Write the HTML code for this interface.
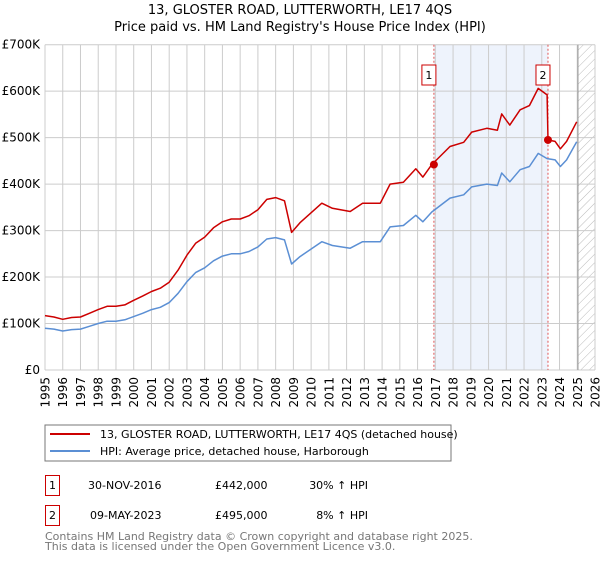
<!DOCTYPE html>
<html><head><meta charset="utf-8"><style>
body{margin:0;background:#fff;font-family:"DejaVu Sans","Liberation Sans",sans-serif;}
svg text{font-family:"DejaVu Sans","Liberation Sans",sans-serif;}
</style></head><body>
<svg id="c" width="600" height="560" viewBox="0 0 600 560" xmlns="http://www.w3.org/2000/svg">
<defs><pattern id="hatch" width="6" height="6" patternUnits="userSpaceOnUse" patternTransform="rotate(45)"><line x1="0" y1="0" x2="0" y2="6" stroke="#bbb" stroke-width="1"/></pattern></defs>
<text x="300" y="14" text-anchor="middle" font-size="13" fill="#000">13, GLOSTER ROAD, LUTTERWORTH, LE17 4QS</text>
<text x="300" y="31" text-anchor="middle" font-size="13" fill="#000">Price paid vs. HM Land Registry's House Price Index (HPI)</text>
<g id="plot"></g>
<g>
<rect x="45" y="425" width="406" height="36" fill="#fff" stroke="#777"/>
<line x1="50" y1="434" x2="90" y2="434" stroke="#cc0000" stroke-width="2"/>
<text x="100" y="438" font-size="11">13, GLOSTER ROAD, LUTTERWORTH, LE17 4QS (detached house)</text>
<line x1="50" y1="451" x2="90" y2="451" stroke="#5b8fd4" stroke-width="2"/>
<text x="100" y="455" font-size="11">HPI: Average price, detached house, Harborough</text>
</g>
<g font-size="11">
<rect x="45.5" y="475.5" width="14" height="20" fill="#fff" stroke="#cc0000"/>
<text x="52.5" y="489" text-anchor="middle">1</text>
<text x="88" y="489">30-NOV-2016</text>
<text x="215" y="489">£442,000</text>
<text x="368" y="489" text-anchor="end">30% ↑ HPI</text>
<rect x="45.5" y="505.5" width="14" height="20" fill="#fff" stroke="#cc0000"/>
<text x="52.5" y="519" text-anchor="middle">2</text>
<text x="90" y="519">09-MAY-2023</text>
<text x="215" y="519">£495,000</text>
<text x="368" y="519" text-anchor="end">8% ↑ HPI</text>
</g>
<text x="45" y="540" font-size="11" fill="#777">Contains HM Land Registry data © Crown copyright and database right 2025.</text>
<text x="45" y="550" font-size="11" fill="#777">This data is licensed under the Open Government Licence v3.0.</text>
</svg>
<script>
const hpiYears=[1995,1995.5,1996,1996.5,1997,1997.5,1998,1998.5,1999,1999.5,2000,2000.5,2001,2001.5,2002,2002.5,2003,2003.5,2004,2004.5,2005,2005.5,2006,2006.5,2007,2007.5,2008,2008.5,2008.9,2009.37,2010.6,2011.2,2012.2,2012.9,2013.9,2014.45,2015.2,2015.9,2016.3,2016.8,2017.83,2018.6,2019.05,2019.9,2020.5,2020.74,2021.2,2021.78,2022.3,2022.8,2023.3,2023.75,2024.05,2024.4,2024.97];
const hpiValues=[90,88,84,87,88,94,100,105,105,108,115,122,130,135,145,165,190,210,220,235,245,250,250,255,265,282,285,280,228,244,276,268,262,276,276,308,311,333,319,340,370,377,394,400,397,424,405,431,438,466,455,452,438,452,491];
const priceYears=[1995,1995.5,1996,1996.5,1997,1997.5,1998,1998.5,1999,1999.5,2000,2000.5,2001,2001.5,2002,2002.5,2003,2003.5,2004,2004.5,2005,2005.5,2006,2006.5,2007,2007.5,2008,2008.5,2008.9,2009.37,2010.6,2011.2,2012.2,2012.9,2013.9,2014.45,2015.2,2015.9,2016.3,2016.8,2017.83,2018.6,2019.05,2019.9,2020.5,2020.74,2021.2,2021.78,2022.3,2022.8,2023.3,2023.35,2023.75,2024.05,2024.4,2024.97];
const priceValues=[117,114,109,113,114,122,130,137,137,140,150,159,169,176,189,215,247,273,286,306,319,325,325,332,345,367,371,364,296,317,359,348,341,359,359,400,404,433,415,442,481,490,512,520,516,551,527,560,569,606,592,495,492,476,492,534];
const saleYears=[2016.92,2023.35];
const saleValues=[442,495];
const saleLabels=["1","2"];
const yTicks=[0,100,200,300,400,500,600,700];
const yTickLabels=["£0","£100K","£200K","£300K","£400K","£500K","£600K","£700K"];
const xTicks=[1995,1996,1997,1998,1999,2000,2001,2002,2003,2004,2005,2006,2007,2008,2009,2010,2011,2012,2013,2014,2015,2016,2017,2018,2019,2020,2021,2022,2023,2024,2025,2026];
const forecastStart=2025.04;

const L=45,R=595,T=44.7,B=370,X0=1995,X1=2026,Y1=700;
const xs=v=>L+(v-X0)/(X1-X0)*(R-L);
const ys=v=>B-v/Y1*(B-T);
const NS="http://www.w3.org/2000/svg";
const g=document.getElementById('plot');
function mk(tag,attrs,parent){const e=document.createElementNS(NS,tag);for(const k in attrs)e.setAttribute(k,attrs[k]);(parent||g).appendChild(e);return e;}
let e;
e=mk('rect',{x:xs(saleYears[0]),y:T,width:xs(saleYears[1])-xs(saleYears[0]),height:B-T,fill:'#eef3fc'});


e=mk('rect',{x:xs(forecastStart),y:T,width:R-xs(forecastStart),height:B-T,fill:'url(#hatch)'});


xTicks.forEach(t=>{
 e=mk('line',{x1:xs(t),x2:xs(t),y1:T,y2:B,stroke:'#ccc','stroke-width':1});
 
 
 e=mk('text',{x:0,y:0,'font-size':12,'text-anchor':'end',transform:`translate(${xs(t)+4.5},377) rotate(-90)`});
 e.textContent=t;
 
 
});
yTicks.forEach((t,i)=>{
 e=mk('line',{x1:L,x2:R,y1:ys(t),y2:ys(t),stroke:'#ccc','stroke-width':1});
 
 
 e=mk('text',{x:40,y:ys(t)+4,'font-size':12,'text-anchor':'end'});
 e.textContent=yTickLabels[i];
 
 
});
e=mk('line',{x1:xs(forecastStart),x2:xs(forecastStart),y1:T,y2:B,stroke:'#999','stroke-width':1});


saleYears.forEach((s,i)=>{
 e=mk('line',{x1:xs(s),x2:xs(s),y1:T,y2:B,stroke:'#e05555','stroke-width':1,'stroke-dasharray':'2,2'});
 
 
});
const path=(xa,va)=>xa.map((x,i)=>(i?'L':'M')+xs(x).toFixed(1)+','+ys(va[i]).toFixed(1)).join('');
e=mk('path',{d:path(hpiYears,hpiValues),fill:'none',stroke:'#5b8fd4','stroke-width':1.5,'stroke-linejoin':'round'});


e=mk('path',{d:path(priceYears,priceValues),fill:'none',stroke:'#cc0000','stroke-width':1.5,'stroke-linejoin':'round'});


saleYears.forEach((s,i)=>{
 e=mk('circle',{cx:xs(s),cy:ys(saleValues[i]),r:4,fill:'#cc0000'});
 
 
 e=mk('rect',{x:xs(s)-12,y:65,width:14,height:20,fill:'#fff',stroke:'#cc0000','stroke-width':1});
 
 
 e=mk('text',{x:xs(s)-5,y:79,'font-size':11,'text-anchor':'middle'});
 e.textContent=saleLabels[i];
 
 
});
</script>
</body></html>
